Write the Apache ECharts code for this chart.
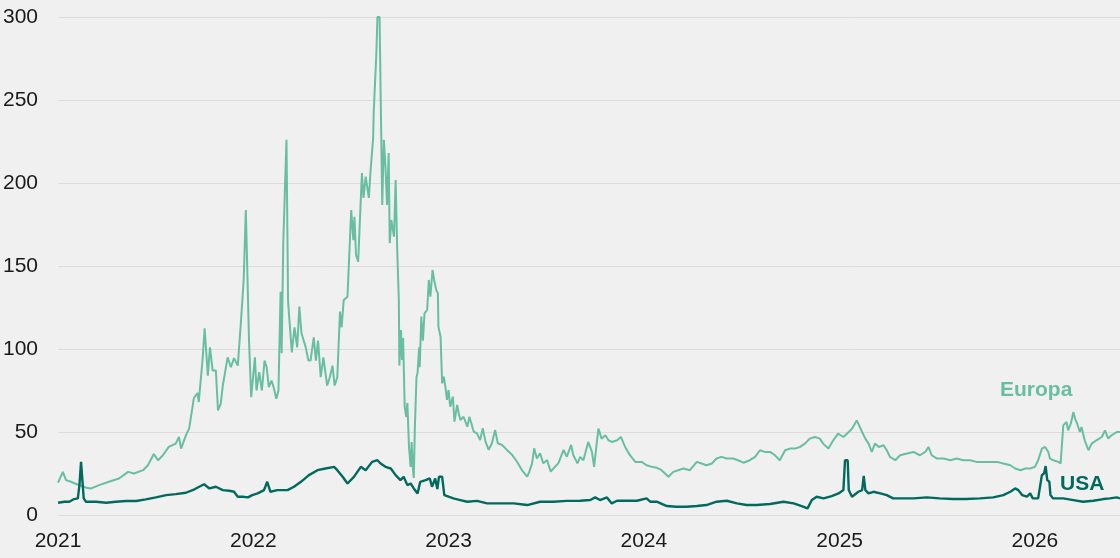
<!DOCTYPE html>
<html>
<head>
<meta charset="utf-8">
<script src="https://cdn.jsdelivr.net/npm/echarts@6/dist/echarts.min.js"></script>
<style>
html,body{margin:0;padding:0;background:#f0f0f0;}
#chart{width:1120px;height:558px;}
</style>
</head>
<body>
<div id="chart"></div>
<script>
// Gas prices, Europe vs USA
const yTicks = [0, 50, 100, 150, 200, 250, 300];
const yearLabels = ['2021', '2022', '2023', '2024', '2025', '2026'];
const seriesNames = ['Europa', 'USA'];
const xRange = ['2021-01-01', '2026-06-09'];

const europa = [
['2021-01-01',19.5],['2021-01-10',26],['2021-01-16',21],['2021-01-25',20],['2021-02-04',18.7],['2021-02-13',17.6],
['2021-02-25',16.2],['2021-03-04',16],['2021-03-19',18],['2021-04-06',20],['2021-04-25',22],['2021-05-12',26],
['2021-05-23',25],['2021-06-09',27],['2021-06-18',30],['2021-06-29',36.7],['2021-07-07',33],['2021-07-16',36],
['2021-07-27',41],['2021-08-09',43],['2021-08-15',47],['2021-08-19',40],['2021-08-28',48],['2021-09-03',52],
['2021-09-12',70.5],['2021-09-19',73.5],['2021-09-21',68],['2021-09-28',93],['2021-10-02',112.5],['2021-10-08',84],
['2021-10-12',101],['2021-10-17',87],['2021-10-23',87],['2021-10-27',63],['2021-11-01',67],['2021-11-05',78],
['2021-11-14',95],['2021-11-20',89],['2021-11-26',94.5],['2021-12-03',90],['2021-12-09',117],['2021-12-14',141.5],
['2021-12-18',183.7],['2021-12-24',105],['2021-12-28',71],
['2022-01-04',95],['2022-01-07',75],['2022-01-12',86],['2022-01-17',75],['2022-01-22',93],['2022-01-26',89],
['2022-01-30',77],['2022-02-04',81],['2022-02-08',77],['2022-02-13',70],['2022-02-17',75],['2022-02-21',134.5],
['2022-02-23',97.5],['2022-02-26',163.5],['2022-03-04',226],['2022-03-07',128.5],['2022-03-14',98],['2022-03-19',113],
['2022-03-24',101],['2022-03-28',125.5],['2022-04-01',109.5],['2022-04-09',101],['2022-04-14',93],['2022-04-18',93],
['2022-04-24',107],['2022-04-28',93],['2022-05-02',105],['2022-05-07',83],['2022-05-12',95],['2022-05-19',78],
['2022-05-24',83],['2022-05-29',90],['2022-06-02',78],['2022-06-07',83],['2022-06-12',122.5],['2022-06-15',113],
['2022-06-19',129.5],['2022-06-26',131.5],['2022-07-03',183.7],['2022-07-07',165.6],['2022-07-09',179.7],['2022-07-12',156.6],
['2022-07-16',152.6],['2022-07-23',206],['2022-07-26',191],['2022-07-30',203.8],['2022-08-05',191],['2022-08-08',206.8],
['2022-08-13',227],['2022-08-14',242],['2022-08-19',278],['2022-08-21',300],['2022-08-25',300],['2022-08-27',254],
['2022-08-30',186.7],['2022-09-02',226],['2022-09-05',210],['2022-09-08',186.7],['2022-09-11',218],['2022-09-13',163.8],
['2022-09-16',177.7],['2022-09-21',167.6],['2022-09-24',201.8],['2022-09-27',159.6],['2022-09-30',129.5],['2022-10-01',90],
['2022-10-04',111.4],['2022-10-06',93.4],['2022-10-08',106.6],['2022-10-11',65],['2022-10-14',59],['2022-10-16',67.5],
['2022-10-19',41],['2022-10-22',29],['2022-10-24',44],['2022-10-26',29],['2022-10-28',22.3],['2022-10-30',53],
['2022-11-02',83],['2022-11-04',85.5],['2022-11-07',101],['2022-11-08',89],['2022-11-11',119.5],['2022-11-14',105],
['2022-11-17',121.5],['2022-11-22',123.5],['2022-11-25',141.6],['2022-11-28',131.5],['2022-12-02',147.6],['2022-12-05',141.6],
['2022-12-09',135.5],['2022-12-12',133.5],['2022-12-13',113.4],['2022-12-17',107.4],['2022-12-20',79.3],['2022-12-23',83.3],
['2022-12-26',77.3],['2022-12-29',69.3],
['2023-01-01',75.3],['2023-01-04',65.2],['2023-01-09',71.3],['2023-01-12',56.2],['2023-01-17',66.3],['2023-01-20',61.3],
['2023-01-23',57.2],['2023-01-29',59.2],['2023-02-05',53.2],['2023-02-09',59.2],['2023-02-17',50.2],['2023-02-23',49.2],
['2023-03-01',45.2],['2023-03-06',52.2],['2023-03-11',44.2],['2023-03-17',39.2],['2023-03-23',43.2],['2023-03-29',51.2],
['2023-04-03',43.2],['2023-04-11',42.2],['2023-04-20',39.2],['2023-04-30',36.1],['2023-05-09',32.1],['2023-05-18',27.1],
['2023-05-28',23.1],['2023-06-01',26.1],['2023-06-06',31.1],['2023-06-10',40.2],['2023-06-15',34.1],['2023-06-21',37.2],
['2023-06-27',31.1],['2023-07-04',33.1],['2023-07-11',26.1],['2023-07-19',29.1],['2023-07-25',31.1],['2023-08-04',39.2],
['2023-08-10',35.1],['2023-08-18',42.2],['2023-08-22',36.1],['2023-08-30',31.1],['2023-09-04',35],['2023-09-10',33],
['2023-09-19',44],['2023-09-26',38],['2023-09-30',29],['2023-10-08',52],['2023-10-14',46],['2023-10-21',48],
['2023-10-27',45],['2023-11-02',44],['2023-11-12',45],['2023-11-19',47],['2023-11-27',41],['2023-12-06',36],
['2023-12-16',32],['2023-12-28',32],
['2024-01-06',30],['2024-01-16',29],['2024-01-25',28.5],['2024-02-03',27],['2024-02-16',23],['2024-02-25',26],
['2024-03-05',27],['2024-03-15',28],['2024-03-27',27],['2024-04-09',32],['2024-04-18',31],['2024-04-27',30],
['2024-05-07',31],['2024-05-16',34],['2024-05-25',35],['2024-06-04',34],['2024-06-16',34],['2024-06-25',33],
['2024-07-05',31.5],['2024-07-17',33],['2024-07-27',35],['2024-08-05',39],['2024-08-14',38],['2024-08-24',38],
['2024-09-02',36],['2024-09-11',33],['2024-09-21',39],['2024-09-30',40],['2024-10-09',40],['2024-10-19',41],
['2024-10-28',43],['2024-11-06',46],['2024-11-16',47],['2024-11-25',46],['2024-12-01',43],['2024-12-11',40],
['2024-12-20',45],['2024-12-29',49],
['2025-01-08',47],['2025-01-18',50],['2025-01-24',52],['2025-02-02',57],['2025-02-05',58],['2025-02-12',50],
['2025-02-18',46],['2025-02-24',43],['2025-03-02',38],['2025-03-08',43],['2025-03-15',41],['2025-03-24',42],
['2025-03-30',39],['2025-04-05',35],['2025-04-15',33],['2025-04-24',36],['2025-05-07',37],['2025-05-19',38],
['2025-05-31',36],['2025-06-10',38],['2025-06-16',41],['2025-06-22',36],['2025-07-02',34],['2025-07-14',34],
['2025-07-27',33],['2025-08-08',34],['2025-08-20',33],['2025-09-02',33],['2025-09-14',32],['2025-09-27',32],
['2025-10-09',32],['2025-10-22',32],['2025-11-03',31],['2025-11-16',30],['2025-11-25',28],['2025-12-05',27],
['2025-12-14',28],['2025-12-23',28],
['2026-01-01',29],['2026-01-07',33],['2026-01-14',40],['2026-01-20',41],['2026-01-26',38],['2026-01-29',34],
['2026-02-04',33],['2026-02-14',32],['2026-02-18',31],['2026-02-23',54],['2026-03-01',56],['2026-03-04',51],
['2026-03-09',55],['2026-03-14',62],['2026-03-17',58],['2026-03-21',55],['2026-03-26',50],['2026-03-29',53],
['2026-04-04',45],['2026-04-11',39],['2026-04-17',43],['2026-04-26',45],['2026-05-06',47],['2026-05-12',51],
['2026-05-18',46],['2026-05-24',48],['2026-06-03',50],['2026-06-09',50]
];

const usa = [
['2021-01-01',7.4],['2021-01-13',8],['2021-01-22',8],['2021-01-31',9.6],['2021-02-07',10],['2021-02-10',18],
['2021-02-13',32],['2021-02-16',32],['2021-02-18',10],['2021-02-22',8],['2021-03-13',8],['2021-04-01',7.4],
['2021-04-19',8],['2021-05-08',8.4],['2021-05-27',8.4],['2021-06-14',9.4],['2021-07-03',10.6],['2021-07-22',12],
['2021-08-09',12.6],['2021-08-28',13.4],['2021-09-13',15.5],['2021-09-22',17],['2021-10-01',18.5],['2021-10-11',16],
['2021-10-23',17],['2021-11-05',15],['2021-11-17',14.6],['2021-11-26',14],['2021-12-03',11],['2021-12-12',11],
['2021-12-22',10.6],['2021-12-30',12],
['2022-01-09',13],['2022-01-21',15],['2022-01-27',20],['2022-02-02',14],['2022-02-15',15],['2022-03-06',15],
['2022-03-18',17],['2022-03-31',20],['2022-04-15',24],['2022-05-01',27],['2022-05-16',28],['2022-06-01',29],
['2022-06-07',27],['2022-06-17',23],['2022-06-26',19],['2022-07-08',23],['2022-07-21',29],['2022-07-30',27],
['2022-08-11',32],['2022-08-21',33],['2022-08-27',31],['2022-09-05',29],['2022-09-15',28],['2022-09-24',24],
['2022-10-03',21],['2022-10-09',23],['2022-10-16',18],['2022-10-22',19],['2022-10-28',16],['2022-11-04',13],
['2022-11-09',20],['2022-11-19',21],['2022-11-27',22],['2022-12-01',17],['2022-12-07',22],['2022-12-11',15.6],
['2022-12-14',23],['2022-12-20',23],['2022-12-24',12],
['2023-01-01',11],['2023-01-10',10],['2023-01-23',9],['2023-02-05',8],['2023-02-23',8.5],['2023-03-14',7],
['2023-04-08',7],['2023-05-03',7],['2023-05-28',6],['2023-06-21',8],['2023-07-16',8],['2023-08-10',8.5],
['2023-09-04',8.6],['2023-09-23',9],['2023-10-02',10.6],['2023-10-11',9],['2023-10-24',10.6],['2023-11-02',7],
['2023-11-12',8.6],['2023-11-30',8.6],['2023-12-19',8.6],
['2024-01-06',10],['2024-01-13',8],['2024-01-25',8],['2024-02-13',5.4],['2024-03-02',5],['2024-03-21',5],
['2024-04-09',5.4],['2024-04-27',6],['2024-05-16',8],['2024-06-04',8.6],['2024-06-23',7],['2024-07-11',6],
['2024-07-30',6],['2024-08-24',6.6],['2024-09-18',8],['2024-10-07',7],['2024-10-22',5.4],['2024-11-02',4],
['2024-11-10',9],['2024-11-19',11],['2024-12-02',10],['2024-12-17',11.4],['2024-12-30',13],
['2025-01-08',15],['2025-01-11',33],['2025-01-16',33],['2025-01-18',15],['2025-01-24',11],['2025-02-05',14],
['2025-02-12',15],['2025-02-15',23.5],['2025-02-18',15],['2025-02-24',13],['2025-03-05',14],['2025-03-18',13],
['2025-03-30',12],['2025-04-11',10],['2025-04-30',10],['2025-05-19',10],['2025-06-13',10.6],['2025-07-07',10],
['2025-08-01',9.6],['2025-08-26',9.6],['2025-09-20',10],['2025-10-15',10.6],['2025-11-03',12],['2025-11-16',14],
['2025-11-25',16],['2025-12-01',15],['2025-12-08',12],['2025-12-17',11],['2025-12-23',13],['2025-12-28',10],
['2026-01-07',10],['2026-01-14',24],['2026-01-18',25],['2026-01-21',29.5],['2026-01-24',21],['2026-01-28',20],
['2026-01-30',12],['2026-02-04',10],['2026-02-23',10],['2026-03-14',9],['2026-04-01',8],['2026-04-20',8.6],
['2026-05-09',9.6],['2026-05-21',10],['2026-06-03',10.6],['2026-06-09',10]
];

const europaColor = '#68bea0';
const usaColor = '#006a5e';

// ISO date -> UTC timestamp (library value axis consumes timestamps)
const ts = s => Date.parse(s + 'T00:00:00Z');
const toPoints = arr => arr.map(p => [ts(p[0]), p[1]]);
const yearTicks = yearLabels.map(y => ts(y + '-01-01'));

const chart = echarts.init(document.getElementById('chart'), null, {renderer: 'canvas'});

chart.setOption({
  backgroundColor: '#f0f0f0',
  animation: false,
  grid: {left: 55, right: 0, top: 17, bottom: 43, containLabel: false},
  xAxis: {
    type: 'value',
    min: ts(xRange[0]),
    max: ts(xRange[1]),
    axisLine: {show: false},
    axisTick: {show: false},
    splitLine: {show: false},
    axisLabel: {
      customValues: yearTicks,
      formatter: v => String(new Date(v).getUTCFullYear()),
      color: '#1a1a1a',
      fontSize: 21,
      fontFamily: 'Liberation Sans, Arial, sans-serif',
      margin: 16
    }
  },
  yAxis: {
    type: 'value',
    min: yTicks[0],
    max: yTicks[yTicks.length - 1],
    interval: 50,
    axisLine: {show: false},
    axisTick: {show: false},
    splitLine: {lineStyle: {color: '#dcdcdc', width: 1}},
    axisLabel: {
      color: '#1a1a1a',
      fontSize: 21,
      fontFamily: 'Liberation Sans, Arial, sans-serif',
      margin: 20
    }
  },
  series: [
    {
      name: seriesNames[0], type: 'line', data: toPoints(europa), showSymbol: false,
      lineStyle: {color: europaColor, width: 2}, z: 2
    },
    {
      name: seriesNames[1], type: 'line', data: toPoints(usa), showSymbol: false,
      lineStyle: {color: usaColor, width: 2.4}, z: 3
    }
  ],
  graphic: [
    {type: 'text', left: 1000, top: 380, style: {text: seriesNames[0], fill: europaColor, font: 'bold 21px Liberation Sans, Arial, sans-serif'}},
    {type: 'text', left: 1060, top: 474, style: {text: seriesNames[1], fill: usaColor, font: 'bold 21px Liberation Sans, Arial, sans-serif'}}
  ]
});
</script>
</body>
</html>
